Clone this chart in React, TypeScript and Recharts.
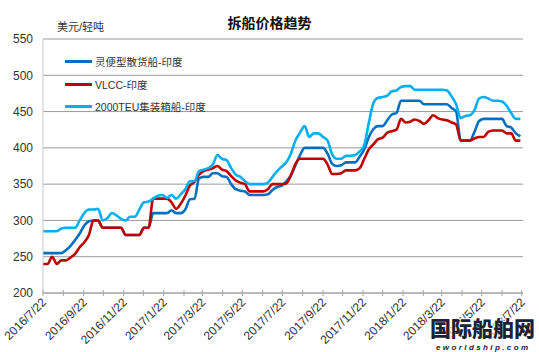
import React from 'react'
import { LineChart, Line, XAxis, YAxis, CartesianGrid, Legend } from 'recharts'

// weekly prices, USD per light ton, starting 2016/7/22
const firstDate = '2016/7/22'

const handysize = [
  255, 255, 255, 255, 255, 259, 265, 273, 282, 293,
  299, 300, 300, 290, 290, 290, 290, 290, 280, 280,
  280, 280, 290, 290, 310, 310, 310, 310, 314, 310,
  310, 315, 329, 330, 358, 360, 360, 365, 365, 361,
  360, 350, 343, 341, 340, 335, 335, 335, 335, 336,
  342, 346, 348, 354, 362, 376, 390, 400, 400, 400,
  400, 400, 392, 378, 375, 376, 380, 380, 380, 388,
  398, 415, 426, 430, 430, 438, 446, 448, 465, 465,
  465, 465, 465, 460, 460, 460, 460, 460, 460, 455,
  450, 410, 410, 410, 422, 437, 440, 440, 440, 440,
  440, 430, 428, 420, 416,
]

const vlcc = [
  240, 240, 250, 240, 245, 245, 249, 254, 263, 270,
  280, 300, 300, 290, 290, 290, 290, 290, 280, 280,
  280, 280, 290, 290, 330, 330, 330, 330, 325, 316,
  323, 334, 348, 353, 363, 368, 370, 372, 375, 370,
  368, 361, 355, 352, 350, 340, 340, 340, 340, 343,
  350, 350, 350, 351, 362, 378, 385, 385, 385, 385,
  385, 385, 377, 364, 364, 365, 369, 369, 369, 372,
  385, 398, 405, 412, 414, 421, 423, 425, 440, 435,
  436, 439, 437, 433, 438, 445, 441, 439, 438, 435,
  432, 410, 410, 410, 413, 415, 415, 422, 424, 424,
  424, 420, 420, 410, 410,
]

const teu2000 = [
  285, 285, 285, 285, 289, 290, 290, 290, 300, 310,
  315, 315, 316, 300, 303, 310, 307, 302, 300, 305,
  305, 315, 325, 326, 330, 334, 335, 331, 335, 330,
  336, 343, 354, 354, 368, 370, 372, 377, 390, 385,
  383, 372, 363, 360, 354, 350, 350, 350, 350, 352,
  360, 368, 374, 380, 392, 410, 421, 430, 415, 420,
  420, 415, 410, 391, 385, 385, 389, 389, 390, 395,
  404, 435, 462, 469, 470, 472, 478, 479, 484, 485,
  485, 480, 480, 480, 480, 480, 480, 480, 479, 471,
  460, 441, 444, 445, 452, 468, 470, 468, 465, 465,
  464, 458, 448, 440, 440,
]

const seriesKeys = ['handysize', 'vlcc', 'teu2000']
const seriesNames = ['灵便型散货船-印度', 'VLCC-印度', '2000TEU集装箱船-印度']
const seriesColors = ['#0070C0', '#C00000', '#00B0F0']

const monthTicks = [
  '2016/7/22', '2016/8/22', '2016/9/22', '2016/10/22', '2016/11/22', '2016/12/22',
  '2017/1/22', '2017/2/22', '2017/3/22', '2017/4/22', '2017/5/22', '2017/6/22',
  '2017/7/22', '2017/8/22', '2017/9/22', '2017/10/22', '2017/11/22', '2017/12/22',
  '2018/1/22', '2018/2/22', '2018/3/22', '2018/4/22', '2018/5/22', '2018/6/22',
  '2018/7/22',
]
const labelledTicks = [
  '2016/7/22', '2016/9/22', '2016/11/22', '2017/1/22', '2017/3/22', '2017/5/22',
  '2017/7/22', '2017/9/22', '2017/11/22', '2018/1/22', '2018/3/22', '2018/5/22',
  '2018/7/22',
]
const yTicks = [200, 250, 300, 350, 400, 450, 500, 550]

const font = "'Liberation Sans', 'Noto Sans CJK SC', sans-serif"

const toUtc = (s: string) => {
  const [y, m, d] = s.split('/').map(Number)
  return Date.UTC(y, m - 1, d)
}
const dayOf = (s: string) => Math.round((toUtc(s) - toUtc(firstDate)) / 86400000)

const data = handysize.map((v, i) => ({
  day: i * 7,
  handysize: v,
  vlcc: vlcc[i],
  teu2000: teu2000[i],
}))

const tickDays = monthTicks.map(dayOf)
const tickText: Record<number, string> = {}
monthTicks.forEach((t) => {
  if (labelledTicks.includes(t)) tickText[dayOf(t)] = t
})

function DateTick(props: any) {
  const { x, y, payload } = props
  const label = tickText[payload.value]
  return (
    <g>
      <line x1={x} y1={y - 3} x2={x} y2={y + 3} stroke="#a6a6a6" />
      {label && (
        <text
          x={0}
          y={0}
          transform={`translate(${x + 4},${y + 10}) rotate(-45)`}
          textAnchor="end"
          fontSize={12}
          fontFamily={font}
          fill="#333"
        >
          {label}
        </text>
      )}
    </g>
  )
}

const renderLegend = () => (
  <div style={{ fontFamily: font, fontSize: 10.5, color: '#333' }}>
    {seriesNames.map((name, i) => (
      <div key={name} style={{ display: 'flex', alignItems: 'center', height: 22.7 }}>
        <span style={{ display: 'inline-block', width: 27, height: 3, background: seriesColors[i], marginRight: 3 }} />
        <span>{name}</span>
      </div>
    ))}
  </div>
)

export default function App() {
  return (
    <div style={{ position: 'absolute', left: 0, top: 0, width: 539, height: 352, background: '#fff' }}>
      <LineChart width={539} height={352} data={data} margin={{ top: 39, right: 16, bottom: 0, left: 0 }}>
        <CartesianGrid vertical={false} stroke="#9a9a9a" />
        <XAxis
          dataKey="day"
          type="number"
          domain={[0, 732]}
          ticks={tickDays}
          interval={0}
          height={59}
          tickSize={0}
          tickMargin={0}
          tickLine={false}
          axisLine={{ stroke: '#a6a6a6' }}
          tick={<DateTick />}
        />
        <YAxis
          domain={[200, 550]}
          ticks={yTicks}
          interval={0}
          width={43}
          tickSize={0}
          tickMargin={10}
          tickLine={false}
          axisLine={{ stroke: '#c8c8c8' }}
          tick={{ fontSize: 12, fill: '#333', fontFamily: font }}
        />
        <Legend
          content={renderLegend}
          layout="horizontal"
          align="center"
          verticalAlign="middle"
          wrapperStyle={{ position: 'absolute', left: 65, top: 50, width: 'auto' }}
        />
        {seriesKeys.map((key, i) => (
          <Line
            key={key}
            type="monotone"
            dataKey={key}
            name={seriesNames[i]}
            stroke={seriesColors[i]}
            strokeWidth={2.6}
            dot={false}
            isAnimationActive={false}
          />
        ))}
      </LineChart>
      <svg width={539} height={352} style={{ position: 'absolute', left: 0, top: 0, pointerEvents: 'none' }}>
        <text x={269.5} y={28} textAnchor="middle" fontSize={14} fontWeight="bold" fontFamily={font} fill="#111">
          拆船价格趋势
        </text>
        <text x={57} y={31} fontSize={11} fontFamily={font} fill="#333">
          美元/轻吨
        </text>
        <text
          x={430}
          y={336}
          fontSize={21}
          fontWeight={900}
          fontFamily={font}
          fill="#1b2233"
          stroke="#fff"
          strokeWidth={2}
          paintOrder="stroke"
        >
          国际船舶网
        </text>
        <text
          x={436}
          y={350}
          fontSize={8}
          fontWeight="bold"
          fontStyle="italic"
          letterSpacing={2.4}
          fontFamily={font}
          fill="#1b2233"
        >
          eworldship.com
        </text>
      </svg>
    </div>
  )
}
